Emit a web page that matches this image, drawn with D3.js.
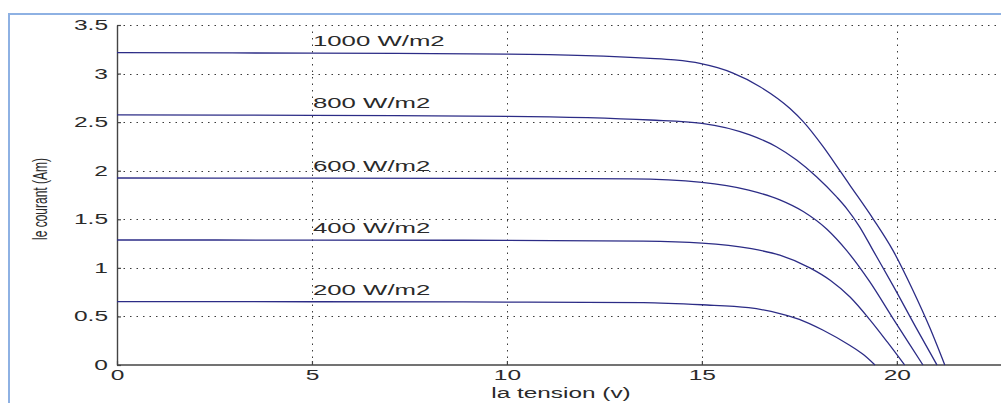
<!DOCTYPE html>
<html>
<head>
<meta charset="utf-8">
<script src="https://cdn.jsdelivr.net/npm/d3@7"></script>
<style>
  body { margin: 0; background: #fff; }
  svg { display: block; }
  text { font-family: "Liberation Sans", Arial, sans-serif; fill: #2a2a2a; }
</style>
</head>
<body>
<svg id="chart" width="1001" height="403"></svg>
<script>
// Data (tension in V, courant in A)
const v1000 = [0, 5, 10, 13.67, 14.3, 14.95, 15.4, 15.8, 16.49, 17.26, 17.6, 18.11, 18.54, 18.79, 19.4, 19.9, 20.4, 20.85, 21.23];
const i1000 = [3.215, 3.21, 3.20, 3.157, 3.14, 3.105, 3.06, 3.005, 2.865, 2.64, 2.505, 2.247, 2.0, 1.855, 1.50, 1.18, 0.78, 0.38, 0];

const v800 = [0, 5, 10, 13.67, 15, 16.23, 16.91, 17.43, 17.94, 18.45, 18.71, 19.05, 19.39, 19.9, 20.5, 21.03];
const i800 = [2.574, 2.57, 2.56, 2.522, 2.488, 2.368, 2.247, 2.11, 1.938, 1.733, 1.613, 1.42, 1.18, 0.82, 0.38, 0];

const v600 = [0, 5, 10, 13.2, 15, 16.2, 17.0, 17.6, 18.2, 18.71, 19.3, 19.9, 20.3, 20.67];
const i600 = [1.925, 1.923, 1.92, 1.915, 1.88, 1.80, 1.70, 1.58, 1.40, 1.18, 0.86, 0.48, 0.23, 0];

const v400 = [0, 5, 10, 13.5, 15, 16.23, 17.0, 17.77, 18.3, 18.8, 19.3, 19.75, 20.2];
const i400 = [1.287, 1.286, 1.283, 1.275, 1.255, 1.20, 1.13, 1.0, 0.87, 0.70, 0.47, 0.24, 0];

const v200 = [0, 5, 10, 13.5, 15, 16.2, 17.0, 17.5, 18.1, 18.8, 19.15, 19.44];
const i200 = [0.652, 0.651, 0.648, 0.642, 0.62, 0.59, 0.53, 0.47, 0.36, 0.20, 0.105, 0];

const curveLabels = ["1000 W/m2", "800 W/m2", "600 W/m2", "400 W/m2", "200 W/m2"];
const xTicks = [0, 5, 10, 15, 20];
const yTicks = [0, 0.5, 1, 1.5, 2, 2.5, 3, 3.5];

// Build the series
const series = [
  [v1000, i1000], [v800, i800], [v600, i600], [v400, i400], [v200, i200]
].map(([v, c], k) => ({
  label: curveLabels[k],
  points: v.map((d, j) => ({ v: d, i: c[j] }))
}));

const svg = d3.select("#chart");
const W = 1001, H = 403;

// Scales
const x = d3.scaleLinear().domain([0, 22.8]).range([117, 1006]);
const y = d3.scaleLinear().domain([0, 3.5]).range([365, 25]);

// Horizontally stretched text (the original picture is widened)
function stretch(sel, k) {
  sel.each(function() {
    const len = this.getComputedTextLength();
    d3.select(this).attr("textLength", len * k).attr("lengthAdjust", "spacingAndGlyphs");
  });
}

// Blue frame
svg.append("rect")
    .attr("x", 9).attr("y", 14)
    .attr("width", W + 20).attr("height", H + 20)
    .attr("fill", "none")
    .attr("stroke", "#8eb1e3")
    .attr("stroke-width", 2);

// Grid
const grid = svg.append("g")
    .attr("stroke", "#3a3a3a")
    .attr("stroke-width", 1)
    .attr("stroke-dasharray", "1.5,5");

grid.selectAll(".hg")
  .data(yTicks.filter(d => d > 0))
  .enter().append("line")
    .attr("x1", x(0)).attr("x2", W)
    .attr("y1", d => Math.round(y(d)) + 0.5)
    .attr("y2", d => Math.round(y(d)) + 0.5);

grid.selectAll(".vg")
  .data(xTicks.filter(d => d > 0))
  .enter().append("line")
    .attr("x1", d => Math.round(x(d)) + 0.5)
    .attr("x2", d => Math.round(x(d)) + 0.5)
    .attr("y1", y(3.5)).attr("y2", y(0));

// Axes
const xAxis = svg.append("g")
    .attr("transform", "translate(0," + y(0) + ")")
    .call(d3.axisBottom(x).tickValues(xTicks).tickSize(-4).tickPadding(5).tickSizeOuter(0));

const yAxis = svg.append("g")
    .attr("transform", "translate(" + x(0) + ",0)")
    .call(d3.axisLeft(y).tickValues(yTicks).tickFormat(d3.format("")).tickSize(-4).tickPadding(9).tickSizeOuter(0));

[xAxis, yAxis].forEach(a => {
  a.select(".domain").attr("stroke", "#444").attr("stroke-width", 1.4);
  a.selectAll(".tick line").attr("stroke", "#444").attr("stroke-width", 1.2);
  a.selectAll("text")
      .attr("font-size", 14)
      .attr("fill", "#2a2a2a")
      .style("font-family", "Liberation Sans, Arial, sans-serif")
      .call(stretch, 1.75);
});
// extend x baseline to the picture edge
xAxis.select(".domain").attr("d", "M" + x(0) + ",0H" + W);

// Curves
const line = d3.line()
    .x(d => x(d.v))
    .y(d => y(d.i))
    .curve(d3.curveMonotoneX);

svg.append("g")
  .selectAll("path")
  .data(series)
  .enter().append("path")
    .attr("fill", "none")
    .attr("stroke", "#2c2c86")
    .attr("stroke-width", 1.3)
    .attr("d", d => line(d.points));

// Curve labels
svg.append("g")
  .selectAll("text")
  .data(series)
  .enter().append("text")
    .attr("x", x(5) + 1)
    .attr("y", d => y(d.points[0].i) - 7)
    .attr("font-size", 14)
    .text(d => d.label)
    .call(stretch, 1.84);

// Axis titles
svg.append("text")
    .attr("x", 561)
    .attr("y", 398)
    .attr("text-anchor", "middle")
    .attr("font-size", 14)
    .text("la tension (v)")
    .call(stretch, 1.74);

svg.append("text")
    .attr("transform", "translate(47,199) scale(1.75,1) rotate(-90)")
    .attr("text-anchor", "middle")
    .attr("font-size", 12)
    .text("le courant (Am)");
</script>
</body>
</html>
